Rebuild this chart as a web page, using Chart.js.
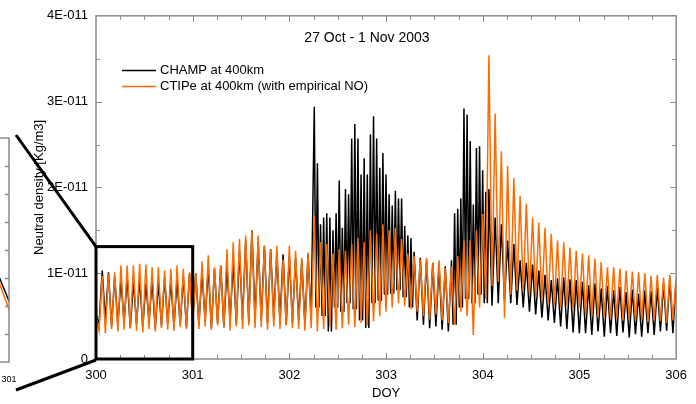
<!DOCTYPE html>
<html>
<head>
<meta charset="utf-8">
<script src="https://cdn.jsdelivr.net/npm/chart.js@4.4.0/dist/chart.umd.min.js"></script>
<style>
html, body { margin: 0; padding: 0; background: #fff; overflow: hidden; }
#wrap { position: relative; width: 696px; height: 404px; overflow: hidden; background: #fff; }
#inset { position: absolute; left: -991px; top: 0; }
#chart { position: absolute; left: 0; top: 0; }
</style>
</head>
<body>
<div id="wrap">
<canvas id="inset" width="1020" height="404"></canvas>
<canvas id="chart" width="696" height="404"></canvas>
</div>
<script>
// density values are in units of 1E-12 kg/m3, one dayside peak + one nightside trough per orbit
var _ = null;
var orbitStart = 300.0;    // DOY of first orbit peak
var orbitPeriod = 0.0645;  // days per orbit

var champPeak = [
	5.0, 10.3, 10.1, 9.6, 9.2, 9.5, 9.0, 9.3, 8.8, 9.1, 8.9, 9.4, 9.0, 9.2, 9.6, 10.0,
	10.0, 10.2, 10.8, 10.5, 10.9, 10.7, 11.3, 12.6, 13.8, 15.0, 13.6, 13.2, 12.8, 12.4, 12.2, 12.0,
	11.8, 11.5, 12.2, 29.4, 15.7, 17.0, 15.0, 20.8, 19.8, 25.7, 25.7, 23.4, 26.2, 25.7, 24.0, 19.2, 19.6, 18.7, 14.4,
	12.5, 11.8, 11.5, 11.2, 11.0, 10.8, 11.5, 17.5, 29.2, 25.4, 24.6, 22.0, 19.8,
	16.5, 15.7, 13.8, 13.4, 11.5, 11.2, 11.0, 10.3, 9.8, 9.2, 9.4, 9.5, 9.3, 9.2,
	9.0, 8.6, 8.8, 8.2, 8.5, 8.0, 8.4, 7.8, 8.1, 7.6, 8.0, 7.9, 8.3, 8.8, 9.4, 9.0
];
var champTrough = [
	4.2, 4.5, 3.8, 4.0, 4.3, 3.6, 4.1, 3.7, 4.4, 3.5, 3.9, 4.2, 3.8, 4.0, 3.7, 4.4,
	4.0, 4.4, 3.6, 4.2, 3.8, 4.5, 4.1, 4.6, 4.3, 4.8, 4.5, 4.2, 4.7, 4.4, 4.0, 4.3,
	4.5, 4.0, 4.6, 6.0, 5.0, 3.2, 6.0, 5.5, 6.5, 5.8, 4.5, 3.6, 6.5, 6.8, 7.5, 7.6, 8.0, 7.2, 6.0,
	4.5, 4.0, 3.6, 3.8, 3.4, 3.2, 4.0, 6.0, 7.0, 6.5, 7.5, 6.5, 6.2,
	6.5, 6.8, 6.5, 6.3, 6.0, 5.5, 5.2, 4.8, 4.5, 4.2, 3.8, 3.5, 3.1, 3.0,
	3.0, 2.8, 3.2, 2.6, 3.0, 2.7, 3.1, 2.5, 2.9, 2.6, 3.0, 2.8, 3.2, 3.3, 3.0, 3.4
];
// second (auroral) spike of the orbit during the storm, null when quiet
var champSpike = [
	_, _, _, _, _, _, _, _, _, _, _, _, _, _, _, _,
	_, _, _, _, _, _, _, _, _, _, _, _, _, _, _, _,
	_, _, _, 22.8, 16.5, 16.5, 17.0, 15.3, 19.2, 27.4, 21.5, 21.5, 28.3, 22.3, 21.5, 17.9, 18.7, 15.5, 14.1,
	_, _, _, _, _, _, 17.0, 18.7, 28.5, 18.0, 24.8, 19.5, _,
	_, _, _, _, _, _, _, _, _, _, _, _, _, _,
	_, _, _, _, _, _, _, _, _, _, _, _, _, _, _, _
];
var ctipePeak = [
	5.0, 9.7, 10.0, 10.1, 10.9, 10.9, 10.9, 11.1, 11.0, 10.7, 10.7, 10.3, 10.5, 10.9, 10.5, 10.1,
	10.0, 11.4, 12.1, 10.7, 10.9, 12.8, 13.6, 14.0, 14.4, 15.0, 14.4, 13.2, 12.7, 13.2, 11.6, 13.2,
	12.6, 11.8, 12.4, 16.7, 13.6, 13.4, 12.3, 12.8, 12.6, 13.4, 14.1, 13.6, 15.0, 14.6, 15.7, 15.0,
	15.3, 14.0, 12.3, 12.0, 11.6, 11.8, 11.2, 11.5, 10.6, 10.8, 12.0, 13.8, 13.8, 15.0, 16.9, 35.4,
	28.6, 24.2, 22.5, 21.1, 19.0, 18.1, 16.5, 15.9, 15.3, 14.6, 13.8, 13.6, 13.0, 12.6, 12.3, 12.1,
	11.7, 11.3, 10.7, 10.7, 10.5, 10.3, 10.2, 10.1, 10.0, 9.7, 9.8, 9.5, 9.8, 9.4
];
var ctipeTrough = [
	3.3, 3.0, 3.5, 3.2, 3.4, 3.6, 3.3, 3.1, 3.5, 3.2, 3.6, 3.4, 3.3, 3.7, 3.5, 3.8,
	3.5, 3.8, 3.4, 3.9, 3.6, 3.3, 3.8, 3.5, 3.9, 3.6, 3.7, 3.4, 3.8, 3.5, 3.9, 3.6,
	3.5, 3.3, 3.6, 3.2, 3.5, 3.8, 3.4, 3.6, 4.0, 3.7, 4.2, 3.9, 4.4, 5.0, 5.5, 6.0,
	6.5, 6.2, 5.8, 5.5, 5.0, 4.6, 5.2, 4.5, 4.2, 4.0, 5.5, 5.0, 2.8, 6.0, 7.0, 8.5,
	9.0, 4.8, 7.5, 8.0, 7.8, 7.5, 7.2, 6.8, 6.5, 6.3, 6.0, 6.2, 5.8, 6.0, 5.2, 5.0,
	4.8, 5.0, 4.6, 4.8, 4.5, 4.7, 4.4, 4.6, 4.3, 4.5, 4.4, 4.2, 4.5, 4.3
];

var xTicks = [300, 301, 302, 303, 304, 305, 306];
var xTickLabels = ['300', '301', '302', '303', '304', '305', '306'];
var yTicks = [0, 10, 20, 30, 40];
var yTickLabels = ['0', '1E-011', '2E-011', '3E-011', '4E-011'];
var zoomDays = [300, 301];
var zoomDensity = [0, 13.1];
var chartTitle = '27 Oct - 1 Nov 2003';

var champColor = '#000000';
var ctipeColor = '#ff6a00';
var axisColor = '#8a8a8a';

Chart.defaults.font.family = '"Liberation Sans", Arial, sans-serif';
Chart.defaults.font.size = 13;
Chart.defaults.color = '#000';

function orbitSeries(peaks, troughs, spikes) {
	var pts = [];
	for (var i = 0; i < peaks.length; i++) {
		var t = orbitStart + i * orbitPeriod;
		pts.push({ x: t, y: peaks[i] });
		if (spikes && spikes[i] != null) {
			pts.push({ x: t + orbitPeriod / 4, y: troughs[i] });
			pts.push({ x: t + orbitPeriod / 2, y: spikes[i] });
			pts.push({ x: t + orbitPeriod * 3 / 4, y: troughs[i] });
		} else {
			pts.push({ x: t + orbitPeriod / 2, y: troughs[i] });
		}
	}
	return pts;
}

function makeDatasets() {
	return [
		{ label: 'CTIPe at 400km (with empirical NO)', data: orbitSeries(ctipePeak, ctipeTrough), borderColor: ctipeColor, order: 0 },
		{ label: 'CHAMP at 400km', data: orbitSeries(champPeak, champTrough, champSpike), borderColor: champColor, order: 1 }
	];
}

// inset (zoomed view of day 300) sitting mostly off the left edge
var insetCanvas = document.getElementById('inset');
var insetPlugin = {
	id: 'insetFrame',
	afterDatasetsDraw: function (c) {
		var ctx = c.ctx, a = c.chartArea, y = c.scales.y, x = c.scales.x;
		ctx.save();
		ctx.strokeStyle = axisColor;
		ctx.lineWidth = 1.5;
		ctx.strokeRect(a.left, a.top, a.right - a.left, a.bottom - a.top);
		ctx.beginPath();
		for (var v = 2; v < 16; v += 2) {
			var py = Math.round(y.getPixelForValue(v)) + 0.5;
			ctx.moveTo(a.right, py);
			ctx.lineTo(a.right - 4, py);
		}
		ctx.stroke();
		ctx.fillStyle = '#000';
		ctx.font = '9px "Liberation Sans", Arial, sans-serif';
		ctx.textAlign = 'center';
		ctx.textBaseline = 'middle';
		ctx.fillText(xTickLabels[1], x.getPixelForValue(301), a.bottom + 18);
		ctx.restore();
	}
};
var inset = new Chart(insetCanvas, {
	type: 'line',
	data: { datasets: makeDatasets() },
	options: {
		responsive: false, animation: false, devicePixelRatio: 1,
		layout: { padding: { top: 138, bottom: 42, left: 0, right: 20 } },
		elements: { point: { radius: 0 }, line: { borderWidth: 1.5, tension: 0 } },
		plugins: { legend: { display: false }, tooltip: { enabled: false } },
		scales: {
			x: { type: 'linear', min: 300, max: 301, display: false },
			y: { min: 0, max: 16, display: false }
		}
	},
	plugins: [insetPlugin]
});

var framePlugin = {
	id: 'frameTicks',
	afterDatasetsDraw: function (c) {
		var ctx = c.ctx, a = c.chartArea, x = c.scales.x, y = c.scales.y;
		ctx.save();
		// axis frame
		ctx.strokeStyle = axisColor;
		ctx.lineWidth = 1.5;
		ctx.strokeRect(a.left, a.top, a.right - a.left, a.bottom - a.top);
		// inward ticks on all four sides
		ctx.lineWidth = 1;
		ctx.beginPath();
		for (var d = 300.25; d < 306; d += 0.25) {
			var px = Math.round(x.getPixelForValue(d)) + 0.5;
			var len = Math.abs(d - Math.round(d)) < 1e-6 ? 6 : 4;
			ctx.moveTo(px, a.bottom); ctx.lineTo(px, a.bottom - len);
			ctx.moveTo(px, a.top); ctx.lineTo(px, a.top + len);
		}
		for (var v = 5; v < 40; v += 5) {
			var py = Math.round(y.getPixelForValue(v)) + 0.5;
			var l2 = v % 10 === 0 ? 6 : 4;
			ctx.moveTo(a.left, py); ctx.lineTo(a.left + l2, py);
			ctx.moveTo(a.right, py); ctx.lineTo(a.right - l2, py);
		}
		ctx.stroke();

		// zoom box around day 300
		var bx0 = x.getPixelForValue(zoomDays[0]), bx1 = x.getPixelForValue(zoomDays[1]);
		var by0 = y.getPixelForValue(zoomDensity[0]), by1 = y.getPixelForValue(zoomDensity[1]);
		ctx.strokeStyle = '#000';
		ctx.lineWidth = 3;
		ctx.strokeRect(bx0, by1, bx1 - bx0, by0 - by1);

		// connector lines to the inset
		var ia = inset.chartArea;
		var insetRight = insetCanvas.offsetLeft + ia.right;
		ctx.beginPath();
		ctx.moveTo(insetRight + 7, ia.top - 3);
		ctx.lineTo(bx0, by1);
		ctx.moveTo(insetRight + 7, ia.bottom + 28);
		ctx.lineTo(bx0, by0 + 1);
		ctx.stroke();

		// title
		ctx.fillStyle = '#000';
		ctx.font = '14px "Liberation Sans", Arial, sans-serif';
		ctx.textAlign = 'center';
		ctx.textBaseline = 'middle';
		ctx.fillText(chartTitle, 367, 38);

		// legend
		ctx.font = '13px "Liberation Sans", Arial, sans-serif';
		ctx.textAlign = 'left';
		var items = [c.data.datasets[1], c.data.datasets[0]];
		for (var k = 0; k < items.length; k++) {
			var ly = 70.5 + k * 16;
			ctx.strokeStyle = items[k].borderColor;
			ctx.lineWidth = 1.5;
			ctx.beginPath();
			ctx.moveTo(122, ly); ctx.lineTo(156, ly);
			ctx.stroke();
			ctx.fillText(items[k].label, 160, ly);
		}
		ctx.restore();
	}
};

var chart = new Chart(document.getElementById('chart'), {
	type: 'line',
	data: { datasets: makeDatasets() },
	options: {
		responsive: false, animation: false, devicePixelRatio: 1,
		layout: { padding: { top: 14, right: 19, left: 0, bottom: 0 } },
		elements: { point: { radius: 0 }, line: { borderWidth: 1.5, tension: 0 } },
		plugins: { legend: { display: false }, tooltip: { enabled: false } },
		scales: {
			x: {
				type: 'linear', min: 300, max: 306,
				grid: { display: false, drawTicks: false }, border: { display: false },
				ticks: { stepSize: 1, padding: 9, autoSkip: false, maxRotation: 0,
					callback: function (v) { var i = xTicks.indexOf(v); return i < 0 ? '' : xTickLabels[i]; } },
				title: { display: true, text: 'DOY', padding: { top: 0, bottom: 3 } },
				afterFit: function (s) { s.height = 45; }
			},
			y: {
				min: 0, max: 40,
				grid: { display: false, drawTicks: false }, border: { display: false },
				ticks: { stepSize: 10, padding: 8,
					callback: function (v) { var i = yTicks.indexOf(v); return i < 0 ? '' : yTickLabels[i]; } },
				title: { display: true, text: 'Neutral density [Kg/m3]', padding: { top: 32, bottom: 0 } },
				afterFit: function (s) { s.width = 96; }
			}
		}
	},
	plugins: [framePlugin]
});
</script>
</body>
</html>
